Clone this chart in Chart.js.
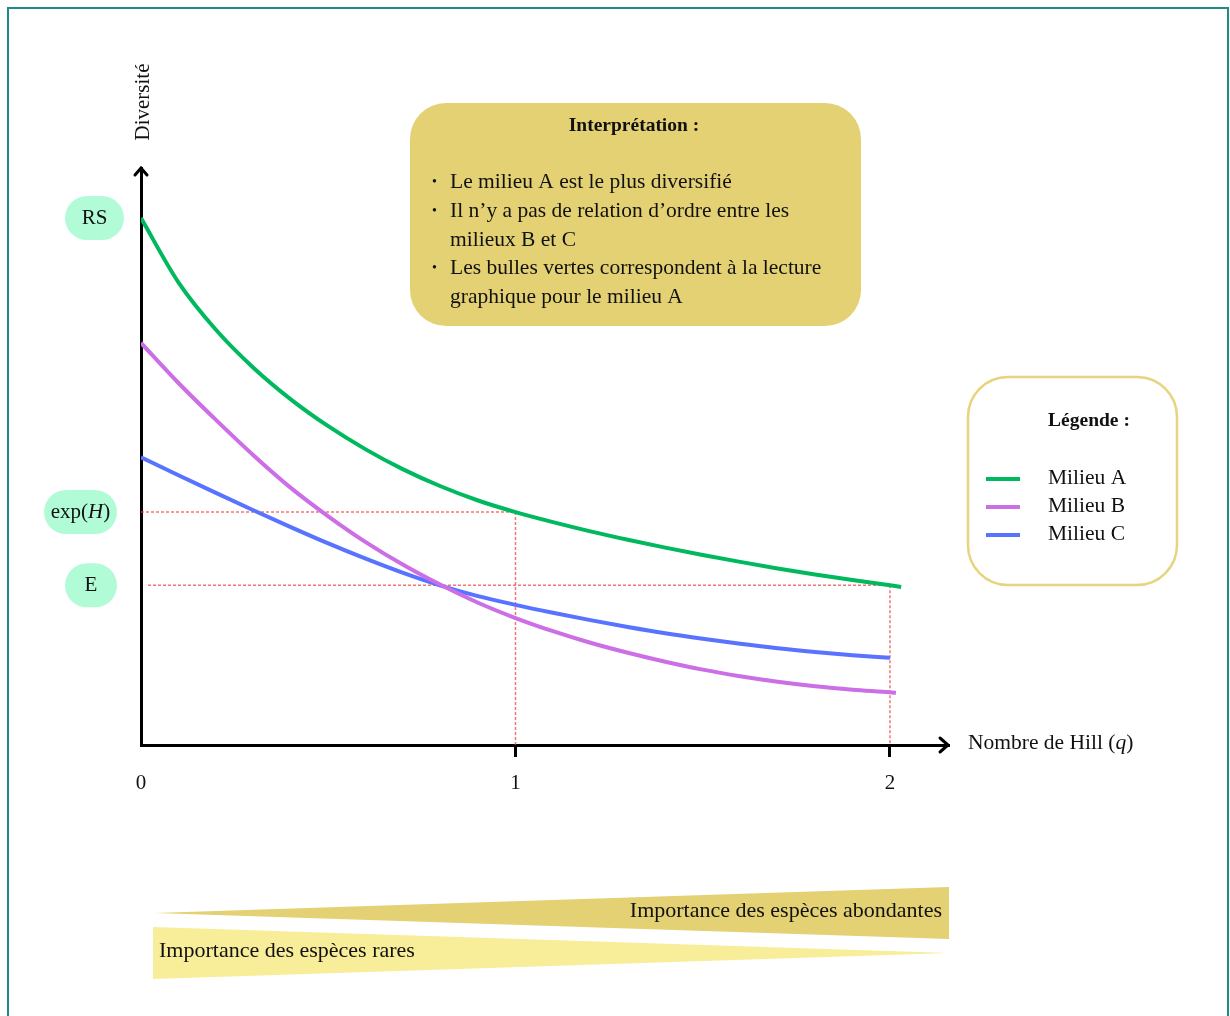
<!DOCTYPE html>
<html lang="fr">
<head>
<meta charset="utf-8">
<title>Nombres de Hill</title>
<script src="https://cdn.jsdelivr.net/npm/chart.js@4.4.1/dist/chart.umd.min.js"></script>
<style>
  html, body { margin: 0; padding: 0; background: #fff; }
  #wrap { position: relative; width: 1230px; height: 1016px; }
</style>
</head>
<body>
<div id="wrap"><canvas id="chart"></canvas></div>
<script>
"use strict";

// ordre q du nombre de Hill
const qValues = [0, 0.1, 0.2, 0.3, 0.4, 0.5, 0.6, 0.7, 0.8, 0.9, 1.0,
  1.1, 1.2, 1.3, 1.4, 1.5, 1.6, 1.7, 1.8, 1.9, 2.0];
// les courbes A et B depassent un peu q = 2
const qA = [...qValues, 2.03];
const qB = [...qValues, 2.016];
const qC = qValues;

const milieuA = [10.0, 8.78, 7.88, 7.16, 6.56, 6.05, 5.61, 5.23, 4.91, 4.64, 4.42,
  4.23, 4.055, 3.895, 3.745, 3.605, 3.475, 3.35, 3.235, 3.13, 3.03, 3.0];
const milieuB = [7.63, 6.87, 6.17, 5.50, 4.88, 4.34, 3.85, 3.42, 3.04, 2.70, 2.41,
  2.16, 1.94, 1.75, 1.58, 1.43, 1.305, 1.20, 1.115, 1.05, 1.00, 0.99];
const milieuC = [5.46, 5.12, 4.785, 4.455, 4.135, 3.825, 3.535, 3.265, 3.025, 2.825, 2.66,
  2.51, 2.37, 2.24, 2.12, 2.015, 1.92, 1.835, 1.765, 1.705, 1.655];

const seriesLabels = ["Milieu A", "Milieu B", "Milieu C"];
const seriesColors = ["#00b95f", "#cc6ee6", "#5873ff"];
const xTicks = [0, 1, 2];

// lecture graphique pour le milieu A : q = 0, 1, 2
const bubbleLabels = ["RS", "exp(H)", "E"];
const bubbleQ = [0, 1, 2];

const SERIF = '"Liberation Serif", "DejaVu Serif", serif';

function points(xs, ys) {
  return ys.map((v, i) => ({ x: xs[i], y: v }));
}

function valueAt(q) {
  return milieuA[qA.indexOf(q)];
}

function roundRect(ctx, x, y, w, h, r) {
  ctx.beginPath();
  ctx.moveTo(x + r, y);
  ctx.lineTo(x + w - r, y);
  ctx.arcTo(x + w, y, x + w, y + r, r);
  ctx.lineTo(x + w, y + h - r);
  ctx.arcTo(x + w, y + h, x + w - r, y + h, r);
  ctx.lineTo(x + r, y + h);
  ctx.arcTo(x, y + h, x, y + h - r, r);
  ctx.lineTo(x, y + r);
  ctx.arcTo(x, y, x + r, y, r);
  ctx.closePath();
}

// texte avec une partie en italique, ex. "exp(" + "H" + ")"
function drawParts(ctx, parts, x, y, size, align) {
  let total = 0;
  for (let p of parts) {
    ctx.font = (p.italic ? "italic " : "") + size + "px " + SERIF;
    total += ctx.measureText(p.t).width;
  }
  let cx = align === "center" ? x - total / 2 : x;
  ctx.textAlign = "left";
  for (let p of parts) {
    ctx.font = (p.italic ? "italic " : "") + size + "px " + SERIF;
    ctx.fillText(p.t, cx, y);
    cx += ctx.measureText(p.t).width;
  }
}

const decor = {
  id: "decor",
  beforeDraw(chart) {
    const ctx = chart.ctx;
    ctx.save();
    ctx.fillStyle = "#fff";
    ctx.fillRect(0, 0, chart.width, chart.height);
    ctx.strokeStyle = "#1f8b85";
    ctx.lineWidth = 2;
    ctx.strokeRect(8, 8, 1220, 1040);
    ctx.restore();
  },

  beforeDatasetsDraw(chart) {
    // pointilles rouges de lecture
    const ctx = chart.ctx;
    const x = chart.scales.x;
    const y = chart.scales.y;
    ctx.save();
    ctx.strokeStyle = "rgba(240,70,70,0.75)";
    ctx.lineWidth = 1.5;
    ctx.setLineDash([3, 2]);
    for (let q of [1, 2]) {
      let px = x.getPixelForValue(q);
      let py = y.getPixelForValue(valueAt(q));
      ctx.beginPath();
      ctx.moveTo(q === 2 ? x.left + 7 : x.left, py);
      ctx.lineTo(px, py);
      ctx.moveTo(px, py);
      ctx.lineTo(px, y.bottom);
      ctx.stroke();
    }
    ctx.restore();
  },

  afterDraw(chart) {
    const ctx = chart.ctx;
    const area = chart.chartArea;
    const y = chart.scales.y;
    ctx.save();

    // fleches des axes
    ctx.strokeStyle = "#000";
    ctx.lineWidth = 3;
    ctx.lineCap = "round";
    ctx.lineJoin = "miter";
    ctx.beginPath();
    ctx.moveTo(area.right - 8, area.bottom - 7);
    ctx.lineTo(area.right, area.bottom);
    ctx.lineTo(area.right - 8, area.bottom + 7);
    ctx.moveTo(area.left - 6, area.top + 7);
    ctx.lineTo(area.left, area.top);
    ctx.lineTo(area.left + 6, area.top + 7);
    ctx.stroke();

    // titres des axes
    ctx.fillStyle = "#111";
    ctx.textBaseline = "middle";
    ctx.save();
    ctx.translate(area.left + 2, 102);
    ctx.rotate(-Math.PI / 2);
    ctx.font = "21px " + SERIF;
    ctx.textAlign = "center";
    ctx.fillText("Diversité", 0, 0);
    ctx.restore();
    drawParts(ctx, [{ t: "Nombre de Hill (" }, { t: "q", italic: true }, { t: ")" }],
      968, area.bottom - 2, 21.5, "left");

    // bulles vertes
    const bubbleBox = [[65, 59], [44, 73], [65, 52]];
    bubbleLabels.forEach((lab, i) => {
      let cy = y.getPixelForValue(valueAt(bubbleQ[i]));
      let [bx, bw] = bubbleBox[i];
      ctx.fillStyle = "#b1fcd7";
      roundRect(ctx, bx, cy - 22, bw, 44, 22);
      ctx.fill();
      ctx.fillStyle = "#111";
      let parts = lab === "exp(H)"
        ? [{ t: "exp(" }, { t: "H", italic: true }, { t: ")" }]
        : [{ t: lab }];
      drawParts(ctx, parts, bx + bw / 2, cy, 21, "center");
    });

    // encadre d'interpretation
    ctx.fillStyle = "#e3d173";
    roundRect(ctx, 410, 103, 451, 223, 36);
    ctx.fill();
    ctx.fillStyle = "#111";
    ctx.textAlign = "center";
    ctx.font = "bold 19.5px " + SERIF;
    ctx.fillText("Interprétation :", 634, 126);
    const lines = [
      ["•", "Le milieu A est le plus diversifié"],
      ["•", "Il n’y a pas de relation d’ordre entre les"],
      ["", "milieux B et C"],
      ["•", "Les bulles vertes correspondent à la lecture"],
      ["", "graphique pour le milieu A"]
    ];
    const lineY = [182, 211, 240, 268, 297];
    ctx.textAlign = "left";
    lines.forEach((l, i) => {
      ctx.font = "14px " + SERIF;
      if (l[0]) ctx.fillText(l[0], 432, lineY[i]);
      ctx.font = "21.5px " + SERIF;
      ctx.fillText(l[1], 450, lineY[i]);
    });

    // legende
    ctx.strokeStyle = "#e6d47e";
    ctx.lineWidth = 2.5;
    roundRect(ctx, 968, 377, 209, 208, 40);
    ctx.stroke();
    ctx.fillStyle = "#111";
    ctx.textAlign = "center";
    ctx.font = "bold 19.5px " + SERIF;
    ctx.fillText("Légende :", 1089, 421);
    ctx.textAlign = "left";
    ctx.font = "21.5px " + SERIF;
    chart.data.datasets.forEach((ds, i) => {
      let ly = 479 + i * 28;
      ctx.strokeStyle = ds.borderColor;
      ctx.lineWidth = 4;
      ctx.lineCap = "butt";
      ctx.beginPath();
      ctx.moveTo(986, ly);
      ctx.lineTo(1020, ly);
      ctx.stroke();
      ctx.fillText(ds.label, 1048, ly - 1);
    });

    // triangles d'importance
    ctx.fillStyle = "#e3d173";
    ctx.beginPath();
    ctx.moveTo(155, 913);
    ctx.lineTo(949, 887);
    ctx.lineTo(949, 939);
    ctx.closePath();
    ctx.fill();
    ctx.fillStyle = "#f8ed98";
    ctx.beginPath();
    ctx.moveTo(153, 927);
    ctx.lineTo(949, 953);
    ctx.lineTo(153, 979);
    ctx.closePath();
    ctx.fill();
    ctx.fillStyle = "#111";
    ctx.font = "22px " + SERIF;
    ctx.textAlign = "right";
    ctx.fillText("Importance des espèces abondantes", 942, 911);
    ctx.textAlign = "left";
    ctx.fillText("Importance des espèces rares", 159, 951);

    ctx.restore();
  }
};

const series = [points(qA, milieuA), points(qB, milieuB), points(qC, milieuC)];

new Chart(document.getElementById("chart"), {
  type: "line",
  data: {
    datasets: series.map((d, i) => ({
      label: seriesLabels[i],
      data: d,
      borderColor: seriesColors[i],
      borderWidth: 4,
      pointRadius: 0,
      fill: false,
      cubicInterpolationMode: "monotone"
    }))
  },
  options: {
    responsive: true,
    maintainAspectRatio: false,
    animation: false,
    events: [],
    layout: { padding: { left: 141, right: 282, top: 168, bottom: 211 } },
    plugins: { legend: { display: false }, tooltip: { enabled: false } },
    scales: {
      x: {
        type: "linear",
        min: 0,
        max: 2.155,
        afterBuildTicks: s => { s.ticks = xTicks.map(v => ({ value: v })); },
        afterFit: s => { s.height = 60; },
        border: { display: true, color: "#000", width: 3 },
        grid: {
          drawOnChartArea: false,
          drawTicks: true,
          tickLength: 12,
          lineWidth: 3,
          color: c => (c.tick && c.tick.value === 0 ? "rgba(0,0,0,0)" : "#000")
        },
        ticks: {
          color: "#111",
          padding: 14,
          maxRotation: 0,
          autoSkip: false,
          font: { family: SERIF, size: 21 },
          callback: v => String(v)
        }
      },
      y: {
        min: 0,
        max: 10.95,
        afterFit: s => { s.width = 0; },
        border: { display: true, color: "#000", width: 3 },
        grid: { display: false },
        ticks: { display: false }
      }
    }
  },
  plugins: [decor]
});
</script>
</body>
</html>
